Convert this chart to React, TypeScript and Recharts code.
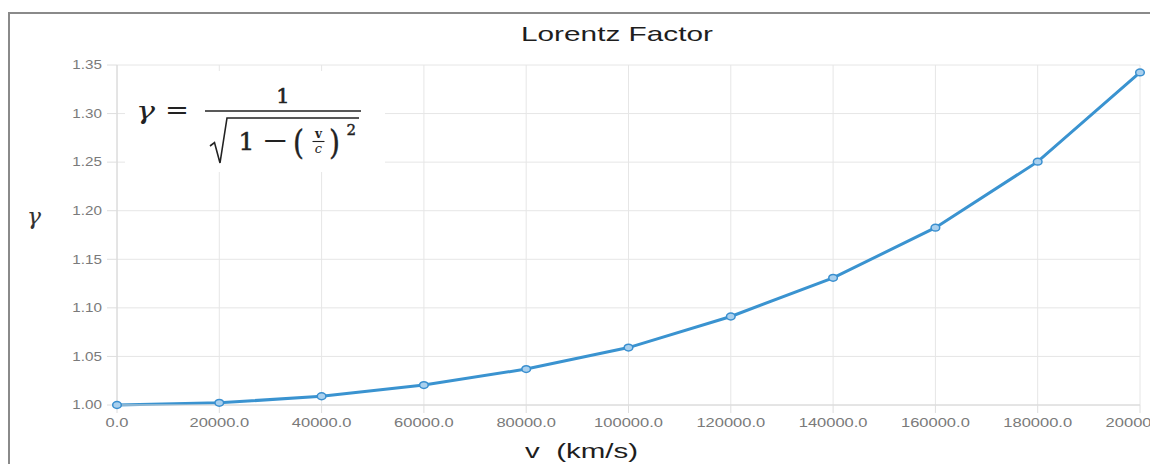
import React from "react";
import { LineChart, Line, XAxis, YAxis, CartesianGrid } from "recharts";

// ---- data ----
const velocities: number[] = [0, 20000, 40000, 60000, 80000, 100000, 120000, 140000, 160000, 180000, 200000];
const gammas: number[] = [1.0, 1.0022, 1.009, 1.0205, 1.037, 1.0591, 1.0911, 1.1309, 1.1825, 1.2505, 1.3424];
const xTicks: number[] = [0, 20000, 40000, 60000, 80000, 100000, 120000, 140000, 160000, 180000, 200000];
const yTicks: number[] = [1.0, 1.05, 1.1, 1.15, 1.2, 1.25, 1.3, 1.35];
const titleText = "Lorentz Factor";
const xLabelText = "v  (km/s)";
const yLabelText = "γ";

const data = velocities.map((v, i) => ({ v, g: gammas[i] }));

const SANS = "'Liberation Sans', Arial, sans-serif";
const SERIF = "'DejaVu Serif', 'Liberation Serif', serif";
const LINE_COLOR = "#3a93d0";

const XTick = (props: any) => {
  const { x, y, payload } = props;
  return (
    <g transform={`translate(${x},${y})`}>
      <text
        transform="scale(1.27,1)"
        textAnchor="middle"
        dy="0.71em"
        fontSize={13}
        fill="#7a7a7a"
        fontFamily={SANS}
      >
        {Number(payload.value).toFixed(1)}
      </text>
    </g>
  );
};

const YTick = (props: any) => {
  const { x, y, payload } = props;
  return (
    <g transform={`translate(${x},${y})`}>
      <text
        transform="scale(1.27,1)"
        textAnchor="end"
        dy="0.355em"
        fontSize={12}
        fill="#7a7a7a"
        fontFamily={SANS}
      >
        {Number(payload.value).toFixed(2)}
      </text>
    </g>
  );
};

const Dot = (props: any) => {
  const { cx, cy, index } = props;
  if (cx == null || cy == null) return <g key={`d-${index}`} />;
  return (
    <ellipse
      key={`d-${index}`}
      cx={cx}
      cy={cy}
      rx={4.3}
      ry={3.4}
      fill="#a9d0ee"
      stroke="#3a8fcf"
      strokeWidth={1.5}
    />
  );
};

export default function App() {
  const W = 1150;
  const H = 456;
  const ink = "#222";
  return (
    <div style={{ position: "relative", width: W, height: H }}>
      <div
        style={{
          position: "absolute",
          left: 0,
          top: 4,
          width: W,
          height: H - 4,
          borderTop: "2px solid #8a8a8a",
          borderLeft: "2px solid #8a8a8a",
          boxSizing: "border-box",
        }}
      />
      <div style={{ position: "absolute", left: 0, top: 0 }}>
        <LineChart
          width={W}
          height={H}
          data={data}
          margin={{ top: 57, right: 18, left: 0, bottom: 0 }}
        >
          <CartesianGrid stroke="#e6e6e6" strokeWidth={1} />
          <XAxis
            dataKey="v"
            type="number"
            domain={[0, 200000]}
            ticks={xTicks}
            interval={0}
            height={59}
            tickSize={8}
            tickMargin={5}
            axisLine={{ stroke: "#d6d6d6" }}
            tickLine={{ stroke: "#dedede" }}
            tick={<XTick />}
          />
          <YAxis
            type="number"
            domain={[1, 1.35]}
            ticks={yTicks}
            interval={0}
            width={109}
            tickSize={10}
            tickMargin={5}
            axisLine={{ stroke: "#d6d6d6" }}
            tickLine={{ stroke: "#dedede" }}
            tick={<YTick />}
          />
          <Line
            type="linear"
            dataKey="g"
            stroke={LINE_COLOR}
            strokeWidth={3}
            dot={Dot}
            activeDot={false}
            isAnimationActive={false}
          />
        </LineChart>
      </div>
      <svg
        width={W}
        height={H}
        style={{ position: "absolute", left: 0, top: 0, pointerEvents: "none" }}
      >
        <g transform="translate(-8,-8)">
          {/* title */}
          <text
            x={521}
            y={41}
            fontSize={21}
            fontFamily={SANS}
            fill="#1e1e1e"
            textLength={192}
            lengthAdjust="spacingAndGlyphs"
          >
            {titleText}
          </text>
          {/* x axis label */}
          <text
            x={525}
            y={457.5}
            fontSize={21}
            fontFamily={SANS}
            fill="#1e1e1e"
            textLength={113}
            lengthAdjust="spacingAndGlyphs"
            style={{ whiteSpace: "pre" }}
          >
            {xLabelText}
          </text>
          {/* y axis label */}
          <text
            x={27}
            y={223.5}
            fontSize={23}
            fontFamily={SERIF}
            fontStyle="italic"
            fill="#333"
            textLength={14}
            lengthAdjust="spacingAndGlyphs"
          >
            {yLabelText}
          </text>

          {/* formula box */}
          <rect x={125} y={71} width={260} height={101} fill="#ffffff" />
          <text
            x={136}
            y={118.5}
            fontSize={24}
            fontFamily={SERIF}
            fontStyle="italic"
            fill={ink}
            textLength={19}
            lengthAdjust="spacingAndGlyphs"
          >
            γ
          </text>
          <text
            x={165}
            y={119}
            fontSize={26}
            fontFamily={SERIF}
            fill={ink}
            textLength={24}
            lengthAdjust="spacingAndGlyphs"
          >
            =
          </text>
          <line x1={205} y1={111} x2={361} y2={111} stroke={ink} strokeWidth={1.6} />
          <text
            x={283}
            y={102.5}
            fontSize={21}
            fontFamily={SERIF}
            fill={ink}
            stroke={ink}
            strokeWidth={0.6}
            textAnchor="middle"
          >
            1
          </text>
          <path
            d="M210,146 L214.5,142.5 L220,163 L227,118 L359,118"
            fill="none"
            stroke={ink}
            strokeWidth={1.6}
            strokeLinejoin="miter"
          />
          <text
            x={246.5}
            y={150}
            fontSize={25}
            fontFamily={SERIF}
            fill={ink}
            stroke={ink}
            strokeWidth={0.5}
            textAnchor="middle"
          >
            1
          </text>
          <text
            x={262}
            y={149}
            fontSize={25}
            fontFamily={SERIF}
            fill={ink}
            textLength={27}
            lengthAdjust="spacingAndGlyphs"
          >
            −
          </text>
          <text
            x={293}
            y={154}
            fontSize={34}
            fontFamily={SERIF}
            fill={ink}
            stroke={ink}
            strokeWidth={0.4}
            textLength={11}
            lengthAdjust="spacingAndGlyphs"
          >
            (
          </text>
          <text
            x={318.5}
            y={138}
            fontSize={12}
            fontFamily={SERIF}
            fontWeight="bold"
            fill={ink}
            textAnchor="middle"
          >
            v
          </text>
          <line x1={312.5} y1={141.5} x2={324.5} y2={141.5} stroke={ink} strokeWidth={1.1} />
          <text
            x={318.5}
            y={153}
            fontSize={13}
            fontFamily={SERIF}
            fontStyle="italic"
            fill={ink}
            textAnchor="middle"
          >
            c
          </text>
          <text
            x={329}
            y={154}
            fontSize={34}
            fontFamily={SERIF}
            fill={ink}
            stroke={ink}
            strokeWidth={0.4}
            textLength={11}
            lengthAdjust="spacingAndGlyphs"
          >
            )
          </text>
          <text
            x={346.5}
            y={135}
            fontSize={15}
            fontFamily={SERIF}
            fill={ink}
            stroke={ink}
            strokeWidth={0.4}
          >
            2
          </text>
        </g>
      </svg>
    </div>
  );
}
